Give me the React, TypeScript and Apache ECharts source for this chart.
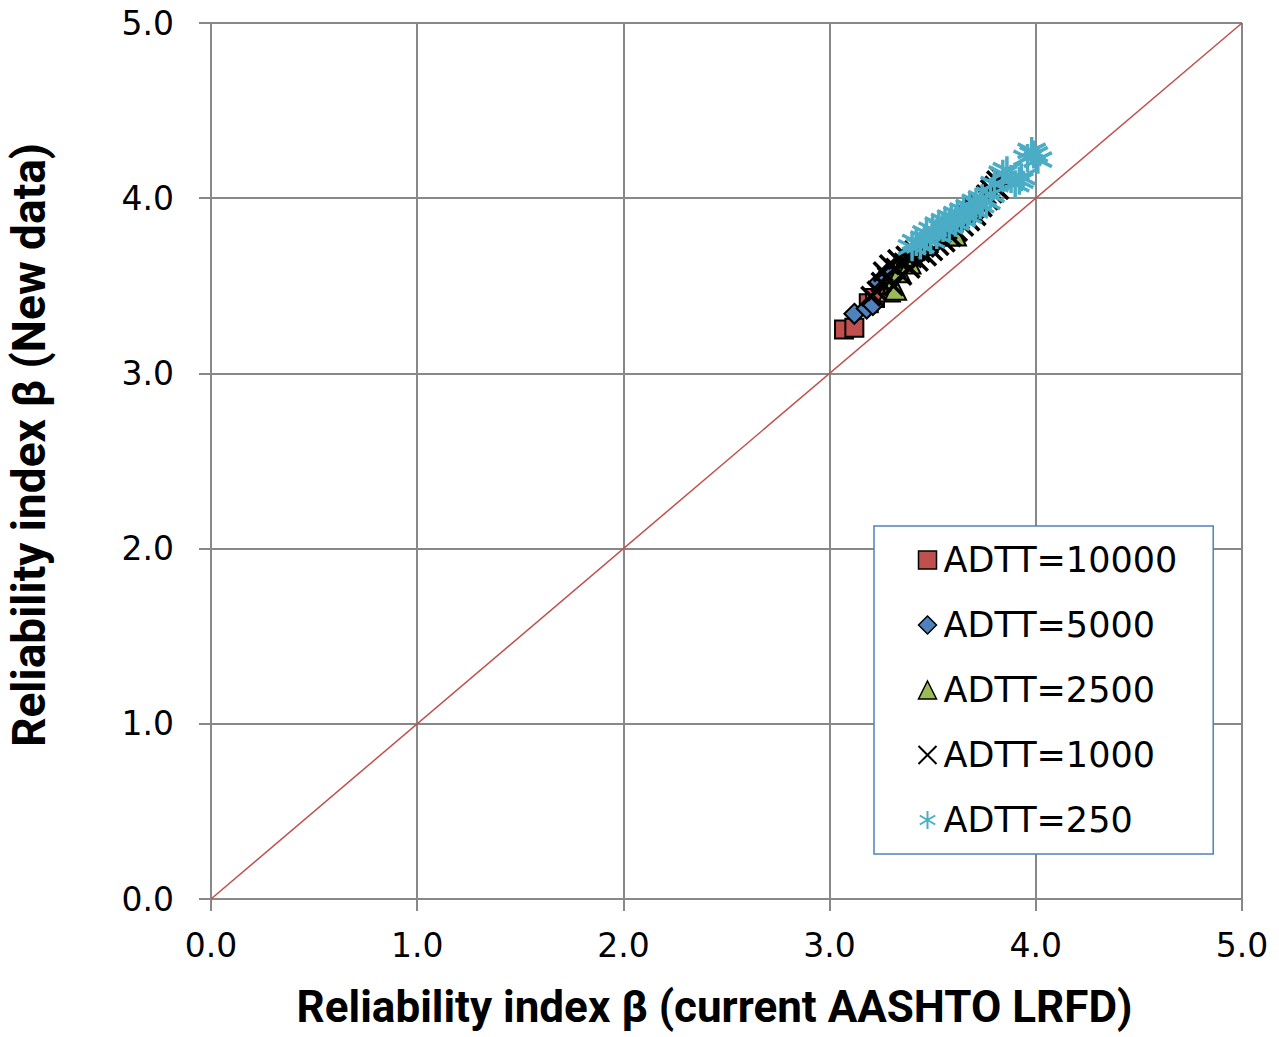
import React, { useEffect, useRef } from "react";
import * as echarts from "echarts";

const seriesNames = ["ADTT=10000", "ADTT=5000", "ADTT=2500", "ADTT=1000", "ADTT=250"];
const xTitle = "Reliability index β (current AASHTO LRFD)";
const yTitle = "Reliability index β (New data)";

const adtt10000: number[][] = [
  [3.07, 3.25], [3.12, 3.26], [3.19, 3.4], [3.22, 3.43],
];
const adtt5000: number[][] = [
  [3.12, 3.34], [3.18, 3.37], [3.21, 3.39], [3.24, 3.52], [3.27, 3.55], [3.29, 3.58],
];
const adtt2500: number[][] = [
  [3.29, 3.47], [3.32, 3.48], [3.34, 3.58], [3.39, 3.63], [3.57, 3.79], [3.61, 3.79],
];
const adtt1000: number[][] = [
  [3.2, 3.44], [3.23, 3.47], [3.25, 3.52], [3.26, 3.58], [3.28, 3.55], [3.29, 3.62],
  [3.31, 3.5], [3.32, 3.6], [3.33, 3.65], [3.35, 3.56], [3.36, 3.63], [3.37, 3.67],
  [3.39, 3.6], [3.4, 3.66], [3.41, 3.7], [3.43, 3.64], [3.44, 3.69], [3.46, 3.72],
  [3.47, 3.67], [3.48, 3.74], [3.5, 3.7], [3.51, 3.77], [3.53, 3.73], [3.54, 3.8],
  [3.56, 3.75], [3.57, 3.82], [3.59, 3.78], [3.6, 3.86], [3.62, 3.81], [3.63, 3.88],
  [3.65, 3.84], [3.66, 3.91], [3.68, 3.87], [3.7, 3.94], [3.71, 3.9], [3.73, 3.97],
  [3.74, 3.95], [3.76, 4.02], [3.77, 3.99], [3.78, 4.05], [3.79, 4.03], [3.8, 4.07],
  [3.81, 4.1], [3.82, 4.05], [3.83, 4.12],
];
const adtt250: number[][] = [
  [3.4, 3.72], [3.42, 3.75], [3.44, 3.73], [3.46, 3.77], [3.47, 3.8], [3.49, 3.76],
  [3.5, 3.82], [3.52, 3.79], [3.53, 3.85], [3.55, 3.83], [3.56, 3.87], [3.58, 3.84],
  [3.59, 3.89], [3.61, 3.86], [3.62, 3.91], [3.64, 3.88], [3.65, 3.93], [3.67, 3.9],
  [3.68, 3.95], [3.7, 3.93], [3.71, 3.98], [3.73, 3.96], [3.74, 4.0], [3.76, 3.98],
  [3.78, 4.02], [3.8, 4.08], [3.84, 4.14], [3.86, 4.16], [3.88, 4.11], [3.9, 4.08],
  [3.92, 4.1], [3.93, 4.12], [3.96, 4.23], [3.98, 4.27], [3.99, 4.25], [4.01, 4.22],
];
const diagonal: number[][] = [[0, 0], [5, 5]];

const colors = ["#c0504d", "#4f81bd", "#9bbb59", "#000000", "#4bacc6"];
const symbols = [
  "rect",
  "diamond",
  "triangle",
  "path://M0,0L10,10M10,0L0,10",
  "path://M5,0L5,10M0.7,2.5L9.3,7.5M0.7,7.5L9.3,2.5",
];
const plotSizes = [18, 20, 21, 19, 28];

export default function App() {
  const ref = useRef<HTMLDivElement>(null);
  useEffect(() => {
    if (!ref.current) return;
    document.documentElement.style.overflow = "hidden";
    const chart = echarts.init(ref.current, null, { renderer: "svg" });
    const datasets = [adtt10000, adtt5000, adtt2500, adtt1000, adtt250];
    const scatter = datasets.map((d, i) => {
      const lineLike = i >= 3;
      return {
        name: seriesNames[i],
        type: "scatter",
        data: d,
        symbol: symbols[i],
        symbolSize: plotSizes[i],
        itemStyle: lineLike
          ? { color: "none", borderColor: colors[i], borderWidth: 3.5, opacity: 1 }
          : { color: colors[i], borderColor: "#000", borderWidth: 2, opacity: 1 },
        z: 3 + i,
      };
    });
    const legendData = seriesNames.map((n, i) => ({
      name: n,
      itemStyle:
        i >= 3
          ? { color: "none", borderColor: colors[i], borderWidth: 2 }
          : { color: colors[i], borderColor: "#000", borderWidth: 1.5 },
    }));
    const axisCommon = {
      type: "value",
      min: 0,
      max: 5,
      interval: 1,
      axisLine: { show: true, lineStyle: { color: "#888", width: 2 } },
      axisTick: { show: true, length: 12, lineStyle: { color: "#888", width: 2 } },
      splitLine: { show: true, lineStyle: { color: "#888", width: 2 } },
    };
    chart.setOption({
      animation: false,
      backgroundColor: "#fff",
      grid: { left: 211, right: 37, top: 23, bottom: 138, outerBoundsMode: "none" },
      xAxis: {
        ...axisCommon,
        name: xTitle,
        nameLocation: "middle",
        nameGap: 88,
        nameTextStyle: {
          fontFamily: "Roboto, sans-serif",
          fontWeight: "bold",
          fontSize: 44,
          lineHeight: 40,
          color: "#000",
          padding: [0, 24, 0, 0],
        },
        axisLabel: {
          margin: 30,
          fontSize: 33,
          fontFamily: "'DejaVu Sans', sans-serif",
          color: "#000",
          formatter: (v: number) => v.toFixed(1),
        },
      },
      yAxis: {
        ...axisCommon,
        axisLabel: {
          margin: 37,
          fontSize: 33,
          fontFamily: "'DejaVu Sans', sans-serif",
          color: "#000",
          formatter: (v: number) => v.toFixed(1),
        },
      },
      graphic: [
        {
          type: "text",
          x: 29,
          y: 445,
          rotation: Math.PI / 2,
          style: {
            text: yTitle,
            fontFamily: "Roboto, sans-serif",
            fontWeight: "bold",
            fontSize: 46,
            fill: "#000",
            align: "center",
            verticalAlign: "middle",
          },
        },
      ],
      legend: {
        orient: "vertical",
        left: 874,
        top: 526,
        padding: [14, 36, 14, 42],
        itemGap: 25,
        itemWidth: 18,
        itemHeight: 18,
        backgroundColor: "#fff",
        borderColor: "#4f81bd",
        borderWidth: 1.5,
        borderRadius: 0,
        data: legendData,
        textStyle: {
          fontSize: 35,
          lineHeight: 40,
          fontFamily: "'DejaVu Sans', sans-serif",
          color: "#000",
          padding: [0, 0, 0, 2],
        },
      },
      series: [
        {
          name: "diag",
          type: "line",
          data: diagonal,
          symbol: "none",
          lineStyle: { color: "#c0504d", width: 1.5 },
          z: 2,
          silent: true,
        },
        ...scatter,
      ],
    });
    return () => chart.dispose();
  }, []);
  return <div ref={ref} style={{ width: 1279, height: 1037, position: "absolute", left: 0, top: 0 }} />;
}
